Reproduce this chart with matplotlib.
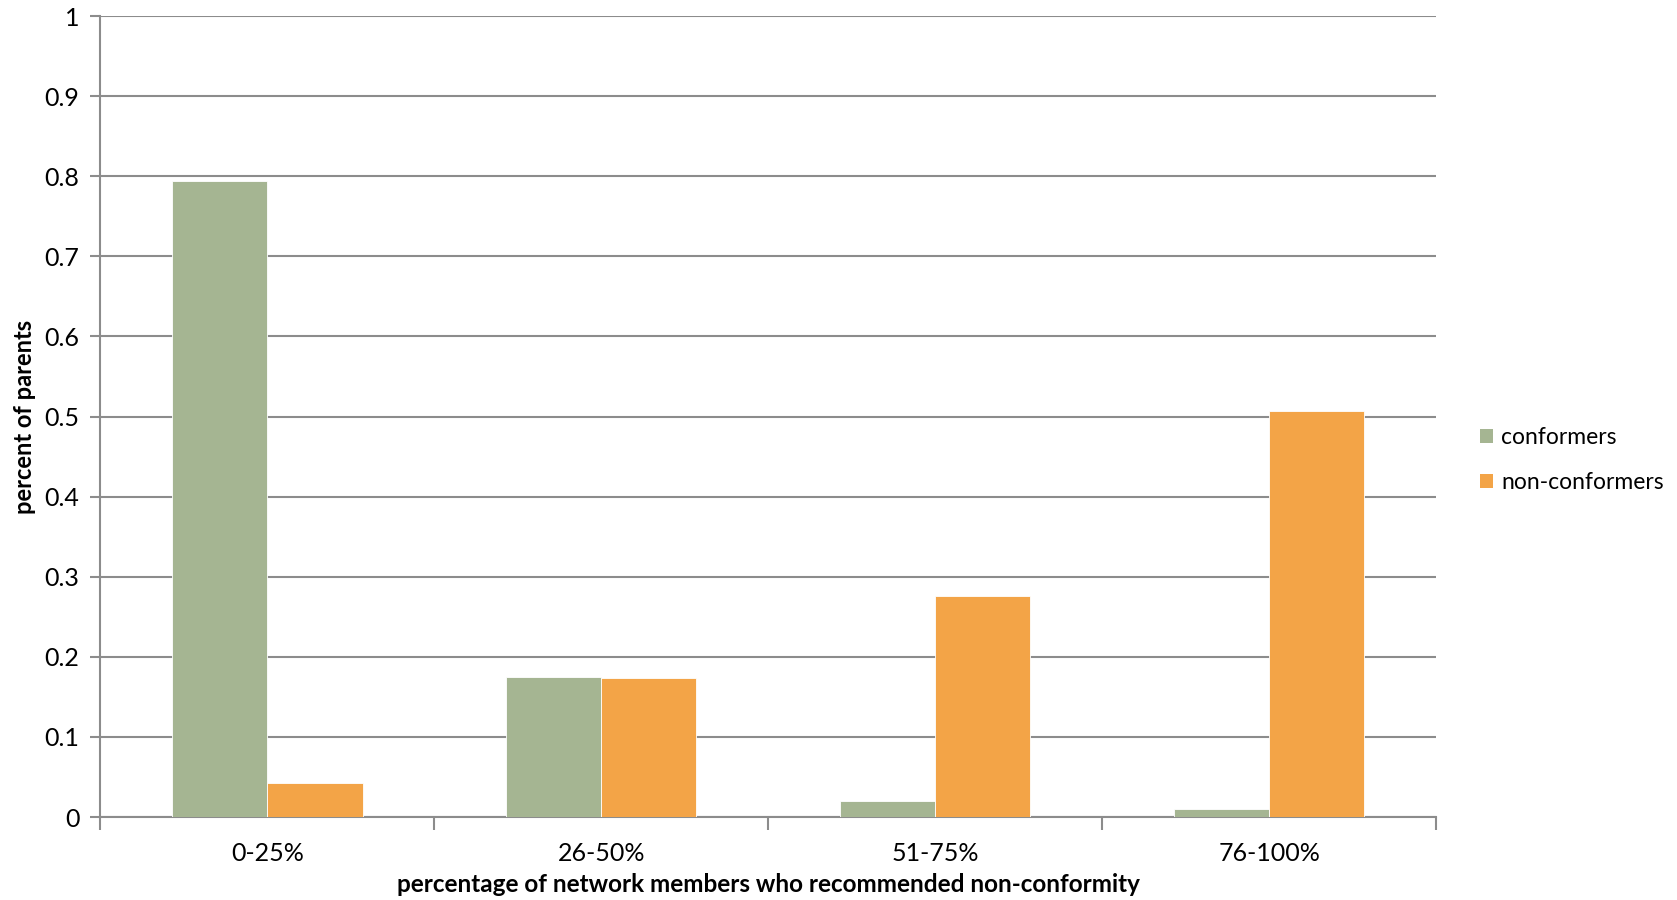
import numpy as np
import matplotlib.pyplot as plt
from matplotlib.patches import Patch

categories = ["0-25%", "26-50%", "51-75%", "76-100%"]
conformers = [0.794, 0.175, 0.020, 0.010]
non_conformers = [0.043, 0.174, 0.276, 0.507]
series_names = ["conformers", "non-conformers"]

GREEN = "#A5B592"
ORANGE = "#F3A447"
GRID = "#8C8C8C"

plt.rcParams["font.family"] = ["Lato", "DejaVu Sans"]

fig = plt.figure(figsize=(16.77, 9.0), dpi=100)
ax = fig.add_axes([0.0599, 0.0922, 0.7964, 0.8900])

x = np.arange(len(categories))
width = 0.285
ax.bar(x - width / 2, conformers, width, color=GREEN, edgecolor="white",
       linewidth=0.6, zorder=3)
ax.bar(x + width / 2, non_conformers, width, color=ORANGE, edgecolor="white",
       linewidth=0.6, zorder=3)

ax.set_xlim(-0.5, len(categories) - 0.5)
ax.set_ylim(0, 1)
ax.set_yticks(np.arange(0, 1.01, 0.1))
ax.set_yticklabels(["0", "0.1", "0.2", "0.3", "0.4", "0.5", "0.6",
                    "0.7", "0.8", "0.9", "1"])
ax.yaxis.grid(True, color=GRID, linewidth=1.5, zorder=0)
ax.set_axisbelow(True)

# category labels between boundary ticks
ax.set_xticks(np.arange(-0.5, len(categories)), minor=False)
ax.set_xticklabels([])
ax.set_xticks(x, minor=True)
ax.set_xticklabels(categories, minor=True)
ax.tick_params(axis="x", which="major", length=9, width=1.5, color=GRID)
ax.tick_params(axis="x", which="minor", length=0, pad=18, labelsize=18)
ax.tick_params(axis="y", length=7, width=1.5, color=GRID, labelsize=18,
               pad=8)

for side in ["top", "right"]:
    ax.spines[side].set_visible(False)
for side in ["left", "bottom"]:
    ax.spines[side].set_color(GRID)
    ax.spines[side].set_linewidth(1.5)

ax.set_xlabel("percentage of network members who recommended non-conformity",
              fontsize=17.5, fontweight="bold", labelpad=6)
ax.set_ylabel("percent of parents", fontsize=17, fontweight="bold",
              labelpad=6)

handles = [Patch(facecolor=GREEN), Patch(facecolor=ORANGE)]
fig.legend(handles, series_names, loc="center left",
           bbox_to_anchor=(0.870, 0.489), frameon=False, fontsize=16.5,
           handlelength=0.6, handleheight=0.6, handletextpad=0.35,
           labelspacing=1.05)

fig.savefig("out.png", dpi=100)
